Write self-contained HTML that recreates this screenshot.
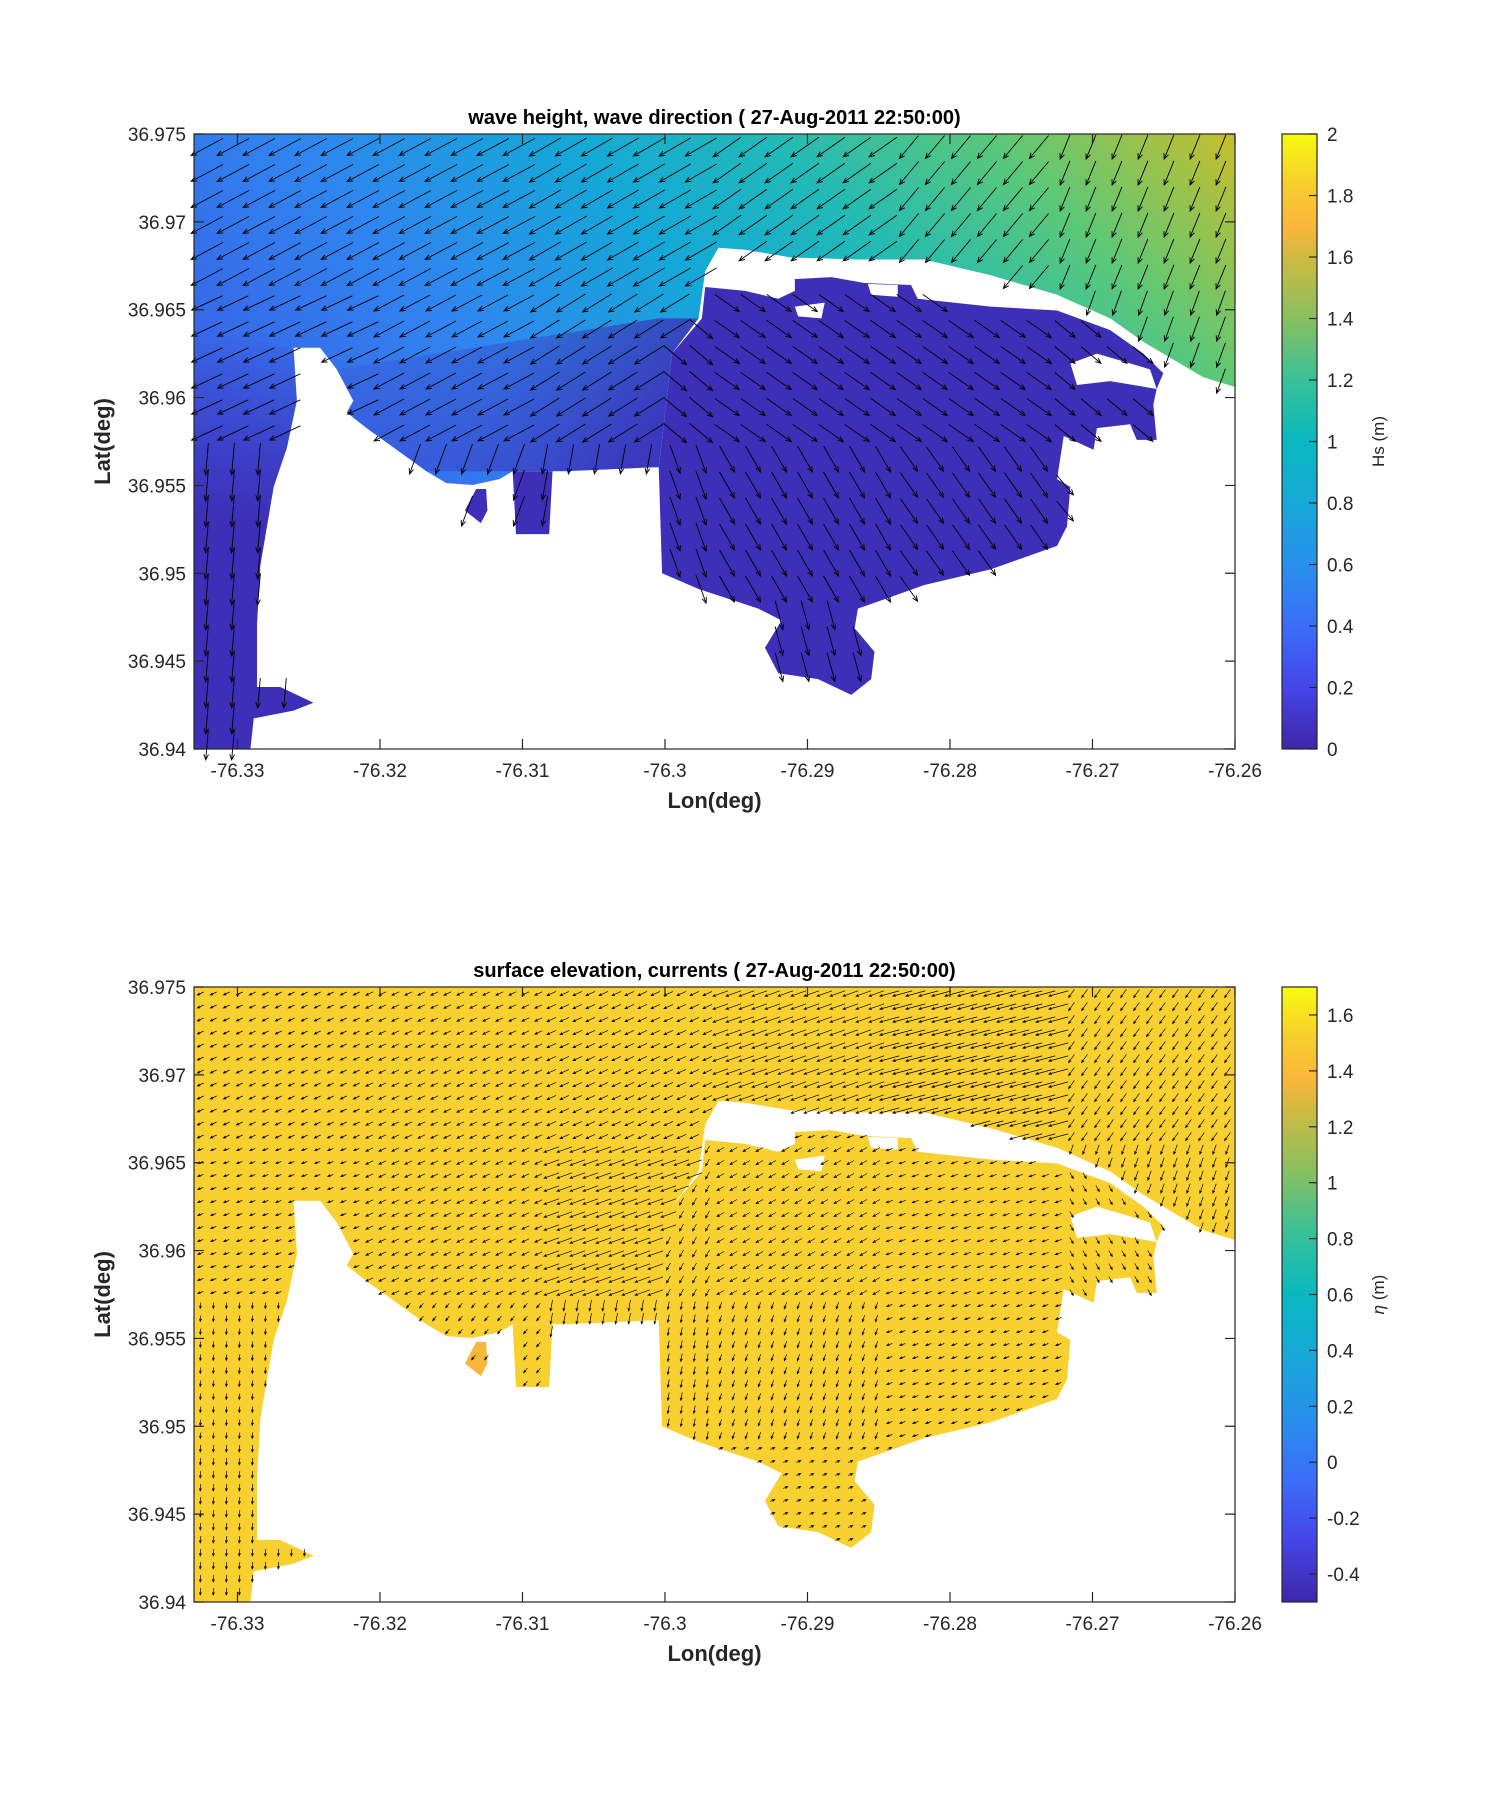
<!DOCTYPE html>
<html><head><meta charset="utf-8"><style>
html,body{margin:0;padding:0;background:#fff;}
svg{display:block;font-family:"Liberation Sans",Arial,sans-serif;}
</style></head><body>
<svg id="fig" width="1500" height="1800" viewBox="0 0 1500 1800" xmlns="http://www.w3.org/2000/svg">
<defs>
<linearGradient id="ocean" x1="0" y1="0.55" x2="1" y2="0">
<stop offset="0" stop-color="#3c58e4"/><stop offset="0.3" stop-color="#2f86f0"/><stop offset="0.5" stop-color="#14a8d8"/><stop offset="0.65" stop-color="#20bab8"/><stop offset="0.82" stop-color="#5cc878"/><stop offset="1" stop-color="#c8be2c"/>
</linearGradient>
<linearGradient id="stripShade" x1="0" y1="0" x2="0" y2="1">
<stop offset="0" stop-color="#3d2fb8" stop-opacity="0"/><stop offset="0.45" stop-color="#3d2fb8" stop-opacity="1"/><stop offset="1" stop-color="#3d2fb8" stop-opacity="1"/>
</linearGradient>
<linearGradient id="bayShade" x1="0" y1="0" x2="1" y2="0.3">
<stop offset="0" stop-color="#3d2fb8" stop-opacity="0.1"/><stop offset="0.5" stop-color="#3d2fb8" stop-opacity="0.35"/><stop offset="1" stop-color="#3d2fb8" stop-opacity="0.9"/>
</linearGradient>
<linearGradient id="parula" x1="0" y1="1" x2="0" y2="0">
<stop offset="0" stop-color="#3e26a8"/><stop offset="0.1" stop-color="#4545e8"/><stop offset="0.2" stop-color="#3a6ef8"/><stop offset="0.3" stop-color="#2890ec"/><stop offset="0.4" stop-color="#18a8d8"/><stop offset="0.5" stop-color="#08b8c0"/><stop offset="0.6" stop-color="#38c198"/><stop offset="0.7" stop-color="#88c060"/><stop offset="0.8" stop-color="#d0ba40"/><stop offset="0.85" stop-color="#fbb63c"/><stop offset="0.92" stop-color="#f6cf2c"/><stop offset="1" stop-color="#f9fb0e"/>
</linearGradient>
</defs>
</svg>
<script>
const lonTicks=[-76.33,-76.32,-76.31,-76.3,-76.29,-76.28,-76.27,-76.26];
const latTicks=[36.94,36.945,36.95,36.955,36.96,36.965,36.97,36.975];
const hsTicks=[0,0.2,0.4,0.6,0.8,1,1.2,1.4,1.6,1.8,2];
const etaTicks=[-0.4,-0.2,0,0.2,0.4,0.6,0.8,1,1.2,1.4,1.6];
const hsRange=[0,2];
const etaRange=[-0.5,1.7];
const waveAngles=[[152,152,150,145,130,112],[155,152,148,135,120,110],[95,110,100,45,40,60],[95,85,80,75,70,70]];
const waveLagoonAngles=[[40,40,40,40,40,40],[60,60,40,35,35,40],[100,85,70,60,55,50],[95,85,80,75,70,70]];
const waveLens=[[36,36,36,34,30,26],[34,34,34,32,30,26],[32,32,30,30,30,26],[30,30,30,30,30,26]];
const waveLagoonLens=[[30,30,30,30,30,30],[30,30,30,30,30,26],[30,30,30,30,30,26],[30,30,30,30,30,26]];
const curAngles=[[155,155,155,160,165,125],[160,155,160,170,170,110],[95,130,100,110,160,60],[95,20,350,340,330,330]];
const curLagoonAngles=[[160,160,160,160,160,160],[160,160,120,150,160,60],[95,130,100,110,160,60],[95,20,350,340,330,330]];
const curLens=[[7,8,10,16,20,10],[6,8,16,20,18,10],[6,6,11,7,6,6],[7,5,5,5,5,5]];
const curLagoonLens=[[7,7,7,7,7,7],[7,7,8,8,7,7],[6,6,8,7,6,6],[6,5,5,5,5,5]];

const NS="http://www.w3.org/2000/svg";
const svg=document.getElementById('fig');
const AX={x0:194,x1:1235,w:1041,h:615};
const lonMin=-76.33305,lonMax=-76.26,latMin=36.94,latMax=36.975;
function mk(tag,attrs,parent){const e=document.createElementNS(NS,tag);for(const k in attrs)e.setAttribute(k,attrs[k]);(parent||svg).appendChild(e);return e;}
function xS(lon){return AX.x0+(lon-lonMin)/(lonMax-lonMin)*AX.w;}
function yS(lat,top){return top+AX.h-(lat-latMin)/(latMax-latMin)*AX.h;}

const LAND=[[150,545],[190,545],[215,600],[240,680],[230,710],[260,750],[350,860],[380,890],[420,895],[460,880],[480,860],[560,860],[690,850],[700,850],[720,560],[760,470],[770,350],[790,290],[830,295],[900,315],[1000,320],[1100,320],[1200,360],[1300,410],[1380,470],[1430,530],[1480,580],[1520,620],[1568,645],[1568,1568],[85,1568],[90,1490],[150,1470],[180,1450],[130,1410],[95,1410],[95,1250],[100,1100],[110,1000],[120,900],[140,800],[155,680]];
const LAG=[[700,850],[720,560],[765,470],[770,390],[830,400],[880,420],[905,400],[905,370],[960,365],[1010,380],[1080,385],[1090,420],[1200,440],[1300,450],[1380,500],[1430,560],[1460,610],[1450,650],[1445,690],[1450,780],[1420,780],[1410,740],[1360,750],[1355,805],[1310,770],[1300,880],[1320,900],[1315,1000],[1300,1050],[1200,1110],[1100,1150],[1000,1210],[995,1260],[1025,1320],[1020,1390],[990,1430],[940,1390],[880,1375],[860,1310],[885,1240],[850,1210],[760,1160],[705,1120]];
const CHAN=[[480,860],[540,860],[535,1020],[485,1020]];
const BLOB=[[425,905],[440,905],[442,960],[432,992],[408,960]];
const ISL=[[[1320,585],[1360,560],[1440,600],[1450,650],[1380,630],[1330,640]],[[905,440],[950,430],[945,470],[910,465]],[[1015,382],[1060,385],[1060,415],[1020,410]]];
const STRIP=[[0,500],[150,545],[155,680],[140,800],[120,900],[110,1000],[100,1100],[95,1250],[95,1410],[130,1410],[180,1450],[150,1470],[90,1490],[85,1568],[0,1568]];
const BAY=[[215,600],[700,470],[765,470],[720,560],[700,850],[560,860],[480,860],[350,860],[260,750],[230,710],[240,680]];
const pts=a=>a.map(p=>p.join(',')).join(' ');
function pip(x,y,poly){let c=false;for(let i=0,j=poly.length-1;i<poly.length;j=i++){const [xi,yi]=poly[i],[xj,yj]=poly[j];if(((yi>y)!==(yj>y))&&(x<(xj-xi)*(y-yi)/(yj-yi)+xi))c=!c;}return c;}
function isWater(zx,zy){if(ISL.some(p=>pip(zx,zy,p)))return false;if(pip(zx,zy,LAG)||pip(zx,zy,CHAN)||pip(zx,zy,BLOB))return true;return !pip(zx,zy,LAND);}

function panel(top,opts){
  const g=mk('g',{});
  const map=mk('svg',{x:AX.x0,y:top,width:AX.w,height:AX.h,viewBox:'0 0 1568 1568',preserveAspectRatio:'none'},g);
  
  
  const bg=mk('rect',{x:0,y:0,width:1568,height:1568,fill:opts.sea},map);
  
  
  if(opts.shade){
    const s=mk('polygon',{points:pts(STRIP),fill:'url(#stripShade)'},map);
    
    
    const b=mk('polygon',{points:pts(BAY),fill:'url(#bayShade)'},map);
    
    
  }
  const land=mk('polygon',{points:pts(LAND),fill:'#fff'},map);
  
  
  const lag=mk('polygon',{points:pts(LAG),fill:opts.lag},map);
  
  
  const ch=mk('polygon',{points:pts(CHAN),fill:opts.lag},map);
  
  
  const bl=mk('polygon',{points:pts(BLOB),fill:opts.blob},map);
  
  
  ISL.forEach(p=>{const i=mk('polygon',{points:pts(p),fill:'#fff'},map);
    
    });
  let d='';const sp=opts.spacing;
  for(let y=sp/2;y<AX.h;y+=sp){for(let x=sp/2;x<AX.w;x+=sp){
    const zx=x/AX.w*1568,zy=y/AX.h*1568;
    if(!isWater(zx,zy))continue;
    const r=Math.min(3,Math.floor(y/AX.h*4)),c=Math.min(5,Math.floor(x/AX.w*6));
    const inLag=pip(zx,zy,LAG);
    const a=(inLag?opts.lagAngles[r][c]:opts.angles[r][c])*Math.PI/180,L=inLag?opts.lagLens[r][c]:opts.lens[r][c];
    const X0=AX.x0+x-Math.cos(a)*L/2,Y0=top+y-Math.sin(a)*L/2,X1=X0+Math.cos(a)*L,Y1=Y0+Math.sin(a)*L;
    const h=opts.head;
    const hx1=X1-h*Math.cos(a-0.4),hy1=Y1-h*Math.sin(a-0.4),hx2=X1-h*Math.cos(a+0.4),hy2=Y1-h*Math.sin(a+0.4);
    d+=`M${X0.toFixed(1)} ${Y0.toFixed(1)}L${X1.toFixed(1)} ${Y1.toFixed(1)}M${hx1.toFixed(1)} ${hy1.toFixed(1)}L${X1.toFixed(1)} ${Y1.toFixed(1)}L${hx2.toFixed(1)} ${hy2.toFixed(1)}`;
  }}
  const ar=mk('path',{d:d,stroke:'#000',fill:'none','stroke-width':opts.sw},g);
  
  
  const box=mk('rect',{x:AX.x0,y:top,width:AX.w,height:AX.h,fill:'none',stroke:'#262626','stroke-width':1.2},g);
  
  
  lonTicks.forEach(v=>{const x=xS(v);
    const t=mk('path',{d:`M${x} ${top+AX.h}v-10M${x} ${top}v10`,stroke:'#262626','stroke-width':1.2},g);
    
    
    const l=mk('text',{x:x,y:top+AX.h+28,'font-size':19,'text-anchor':'middle',fill:'#262626'},g);l.textContent=String(v);
    
    });
  latTicks.forEach(v=>{const y=yS(v,top);
    const t=mk('path',{d:`M${AX.x0} ${y}h10M${AX.x1} ${y}h-10`,stroke:'#262626','stroke-width':1.2},g);
    
    
    const l=mk('text',{x:AX.x0-8,y:y+7,'font-size':19,'text-anchor':'end',fill:'#262626'},g);l.textContent=String(v);
    
    });
  const ti=mk('text',{x:(AX.x0+AX.x1)/2,y:top-10,'font-size':20,'font-weight':'bold','text-anchor':'middle',fill:'#000'},g);ti.textContent=opts.title;
  
  
  const xl=mk('text',{x:(AX.x0+AX.x1)/2,y:top+AX.h+59,'font-size':22,'font-weight':'bold','text-anchor':'middle',fill:'#262626'},g);xl.textContent='Lon(deg)';
  
  
  const yl=mk('text',{x:0,y:0,'font-size':22,'font-weight':'bold','text-anchor':'middle',fill:'#262626',transform:`translate(110 ${top+AX.h/2}) rotate(-90)`},g);yl.textContent='Lat(deg)';
  
  
  const cb=mk('rect',{x:1282,y:top,width:35,height:AX.h,fill:'url(#parula)',stroke:'#262626','stroke-width':1.2},g);
  
  
  const [cmin,cmax]=opts.range;
  opts.cticks.forEach(v=>{const y=top+AX.h-(v-cmin)/(cmax-cmin)*AX.h;
    const t=mk('path',{d:`M1317 ${y}h-8`,stroke:'#262626','stroke-width':1.2},g);
    
    
    const l=mk('text',{x:1327,y:y+7,'font-size':19,fill:'#262626'},g);l.textContent=String(v);
    
    });
  const cl=mk('text',{x:0,y:0,'font-size':17,'text-anchor':'middle',fill:'#262626',transform:`translate(1384 ${top+AX.h/2}) rotate(-90)`},g);
  cl.innerHTML=opts.clabel;
  
  
}
panel(134,{name:'wave-height-panel',sea:'url(#ocean)',lag:'#3d2fb8',blob:'#3d2fb8',shade:true,spacing:26,angles:waveAngles,lagAngles:waveLagoonAngles,lens:waveLens,lagLens:waveLagoonLens,head:6,sw:0.9,arrowName:'wave-direction-arrows',title:'wave height, wave direction ( 27-Aug-2011 22:50:00)',range:hsRange,cticks:hsTicks,clabel:'Hs (m)'});
panel(987,{name:'surface-elevation-panel',sea:'#f8d02f',lag:'#f8d02f',blob:'#f6b73a',shade:false,spacing:13,angles:curAngles,lagAngles:curLagoonAngles,lens:curLens,lagLens:curLagoonLens,head:3,sw:0.7,arrowName:'current-arrows',title:'surface elevation, currents ( 27-Aug-2011 22:50:00)',range:etaRange,cticks:etaTicks,clabel:'<tspan font-style="italic">η</tspan> (m)'});
</script>
</body></html>
